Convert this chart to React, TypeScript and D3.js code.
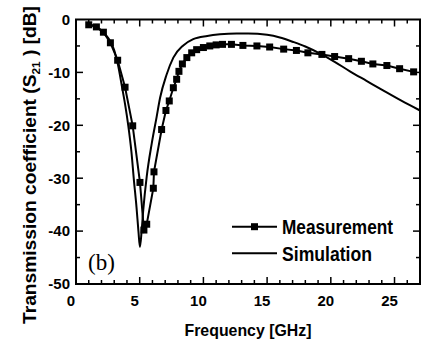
import React, { useEffect, useRef } from "react";
import * as d3 from "d3";

// Measured transmission S21 (dB) vs frequency (GHz)
const measFreq = [1.0, 1.6, 2.15, 2.7, 3.27, 3.85, 4.45, 5.02, 5.33, 5.55, 6.07, 6.12, 6.72, 7.06, 7.32, 7.64, 7.9, 8.08, 8.35, 8.7, 9.08, 9.47, 10.0, 10.5, 11.0, 11.5, 12.2, 13.1, 14.2, 15.2, 16.3, 17.3, 18.2, 19.3, 20.3, 21.4, 22.4, 23.3, 24.4, 25.4, 26.5];
const measS21 = [-1.0, -1.4, -2.4, -4.4, -7.7, -12.8, -20.1, -30.8, -39.8, -38.7, -31.9, -28.8, -20.8, -17.2, -15.4, -12.9, -11.3, -9.8, -8.4, -7.2, -6.3, -5.7, -5.3, -5.0, -4.8, -4.7, -4.7, -4.9, -5.0, -5.2, -5.6, -5.85, -6.3, -6.6, -7.0, -7.4, -7.9, -8.4, -8.7, -9.3, -9.9];

// Simulated transmission S21 (dB) vs frequency (GHz)
const simFreq = [1.0, 1.5, 2.0, 2.5, 3.0, 3.3, 3.6, 3.85, 4.1, 4.35, 4.55, 4.75, 4.9, 5.02, 5.15, 5.28, 5.55, 5.94, 6.33, 6.6, 7.1, 7.64, 8.42, 9.2, 10.3, 11.3, 12.6, 13.5, 15.0, 16.0, 17.0, 18.0, 19.2, 20.3, 21.5, 22.8, 24.1, 25.5, 27.0];
const simS21 = [-0.9, -1.3, -2.1, -3.4, -5.8, -8.6, -12.6, -16.0, -20.0, -25.0, -30.5, -35.5, -40.0, -43.0, -40.0, -36.0, -29.7, -23.5, -18.4, -14.8, -10.5, -7.2, -4.9, -3.7, -3.1, -2.8, -2.65, -2.65, -2.9, -3.4, -4.2, -5.1, -6.5, -8.0, -9.8, -11.6, -13.4, -15.3, -17.2];

const xTickValues = [0, 5, 10, 15, 20, 25];
const yTickValues = [0, -10, -20, -30, -40, -50];
const seriesNames = ["Measurement", "Simulation"];

const W = 433;
const H = 349;
const left = 76;
const right = 420;
const top = 19.5;
const bottom = 284;

export default function App() {
  const ref = useRef<SVGSVGElement | null>(null);

  useEffect(() => {
    const svg = d3.select(ref.current);
    svg.selectAll("*").remove();

    const x = d3.scaleLinear().domain([0, 27]).range([left, right]);
    const y = d3.scaleLinear().domain([-50, 0]).range([bottom, top]);
    const font = "'Liberation Sans', Arial, sans-serif";

    const g = svg.append("g");

    // curves
    const meas = measFreq.map((f, i) => [f, measS21[i]] as [number, number]);
    const sim = simFreq.map((f, i) => [f, simS21[i]] as [number, number]);

    const simLine = d3
      .line<[number, number]>()
      .x((d) => x(d[0]))
      .y((d) => y(d[1]))
      .curve(d3.curveMonotoneX);
    const measLine = d3
      .line<[number, number]>()
      .x((d) => x(d[0]))
      .y((d) => y(d[1]));

    g.append("path")
      .attr("d", simLine(sim) as string)
      .attr("fill", "none")
      .attr("stroke", "#000")
      .attr("stroke-width", 2);

    g.append("path")
      .attr("d", measLine(meas) as string)
      .attr("fill", "none")
      .attr("stroke", "#000")
      .attr("stroke-width", 2);

    const sq = 7;
    g.selectAll("rect.m")
      .data(meas)
      .enter()
      .append("rect")
      .attr("class", "m")
      .attr("x", (d) => x(d[0]) - sq / 2)
      .attr("y", (d) => y(d[1]) - sq / 2)
      .attr("width", sq)
      .attr("height", sq)
      .attr("fill", "#000");

    // frame
    g.append("rect")
      .attr("x", left)
      .attr("y", top)
      .attr("width", right - left)
      .attr("height", bottom - top)
      .attr("fill", "none")
      .attr("stroke", "#000")
      .attr("stroke-width", 2);

    // inward ticks on all four sides
    const ticks = g.append("g").attr("stroke", "#000").attr("stroke-width", 1.5);
    d3.range(0, 28, 1).forEach((v) => {
      const len = v % 5 === 0 ? 7 : 4;
      const px = x(v);
      if (v === 0) return;
      ticks.append("line").attr("x1", px).attr("x2", px).attr("y1", bottom).attr("y2", bottom - len);
      ticks.append("line").attr("x1", px).attr("x2", px).attr("y1", top).attr("y2", top + len);
    });
    d3.range(-50, 1, 5).forEach((v) => {
      const len = v % 10 === 0 ? 7 : 4;
      const py = y(v);
      if (v === -50 || v === 0) return;
      ticks.append("line").attr("x1", left).attr("x2", left + len).attr("y1", py).attr("y2", py);
      ticks.append("line").attr("x1", right).attr("x2", right - len).attr("y1", py).attr("y2", py);
    });

    // tick labels
    xTickValues.forEach((v) => {
      g.append("text")
        .attr("x", x(v) - 5)
        .attr("y", 306)
        .attr("text-anchor", "middle")
        .attr("font-family", font)
        .attr("font-weight", "bold")
        .attr("font-size", 15)
        .text(String(v));
    });
    yTickValues.forEach((v) => {
      g.append("text")
        .attr("x", 70)
        .attr("y", y(v) + 5.3)
        .attr("text-anchor", "end")
        .attr("font-family", font)
        .attr("font-weight", "bold")
        .attr("font-size", 15)
        .text(String(v));
    });

    // axis titles
    g.append("text")
      .attr("x", 248)
      .attr("y", 336)
      .attr("text-anchor", "middle")
      .attr("font-family", font)
      .attr("font-weight", "bold")
      .attr("font-size", 17)
      .attr("textLength", 127)
      .attr("lengthAdjust", "spacingAndGlyphs")
      .text("Frequency [GHz]");

    const yt = g
      .append("text")
      .attr("transform", "translate(36,165) rotate(-90)")
      .attr("text-anchor", "middle")
      .attr("font-family", font)
      .attr("font-weight", "bold")
      .attr("font-size", 18)
      .attr("textLength", 318)
      .attr("lengthAdjust", "spacingAndGlyphs");
    yt.append("tspan").text("Transmission coefficient (S");
    yt.append("tspan").attr("font-size", 11).attr("dy", 4).text("21");
    yt.append("tspan").attr("dy", -4).text(" ) [dB]");

    // panel label
    g.append("text")
      .attr("x", 88)
      .attr("y", 270)
      .attr("font-family", "'Liberation Serif', 'Times New Roman', serif")
      .attr("font-size", 23)
      .text("(b)");

    // legend
    const lx1 = 232;
    const lx2 = 277;
    const ly = [226.7, 253.3];
    ly.forEach((yy, i) => {
      g.append("line")
        .attr("x1", lx1)
        .attr("x2", lx2)
        .attr("y1", yy)
        .attr("y2", yy)
        .attr("stroke", "#000")
        .attr("stroke-width", 2);
      if (i === 0) {
        g.append("rect")
          .attr("x", (lx1 + lx2) / 2 - sq / 2)
          .attr("y", yy - sq / 2)
          .attr("width", sq)
          .attr("height", sq)
          .attr("fill", "#000");
      }
      g.append("text")
        .attr("x", 282)
        .attr("y", yy + 7.5)
        .attr("font-family", font)
        .attr("font-weight", "bold")
        .attr("font-size", 20)
        .attr("textLength", i === 0 ? 111 : 90)
        .attr("lengthAdjust", "spacingAndGlyphs")
        .text(seriesNames[i]);
    });
  }, []);

  return (
    <svg
      ref={ref}
      width={W}
      height={H}
      style={{ position: "absolute", left: 0, top: 0, background: "#fff" }}
    />
  );
}
